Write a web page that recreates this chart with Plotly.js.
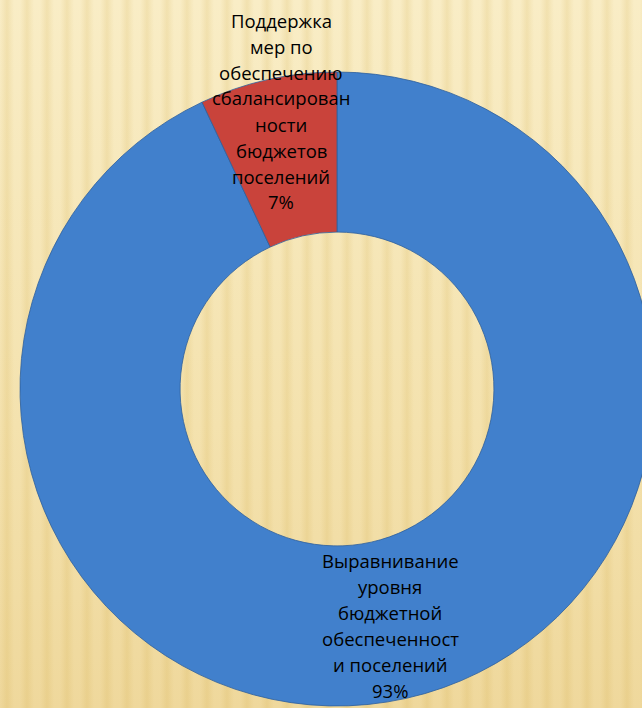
<!DOCTYPE html>
<html>
<head>
<meta charset="utf-8">
<script src="https://cdn.plot.ly/plotly-3.0.1.min.js"></script>
<style>
  html, body { margin: 0; padding: 0; width: 642px; height: 708px; overflow: hidden; }
  body {
    background:
      repeating-linear-gradient(90deg,
        rgba(205,165,60,0) 0px, rgba(205,165,60,0.17) 7px,
        rgba(205,165,60,0) 14px, rgba(205,165,60,0) 20px),
      linear-gradient(180deg, #f9edc6 0%, #f4e2ae 60%, #efd89c 100%);
  }
  #chart { width: 674px; height: 708px; }
</style>
</head>
<body>
<div id="chart"></div>
<script>
// Data
const categories = [
  "Выравнивание уровня бюджетной обеспеченности поселений",
  "Поддержка мер по обеспечению сбалансированности бюджетов поселений"
];
const values = [93, 7];
const percentLabels = ["93%", "7%"];
// Label lines as wrapped in the original chart
const labelLines = [
  ["Выравнивание", "уровня", "бюджетной", "обеспеченност", "и поселений"],
  ["Поддержка", "мер по", "обеспечению", "сбалансирован", "ности", "бюджетов", "поселений"]
];
const colors = ["#4180cc", "#c9433b"];

// Layout geometry (pixels)
const W = 674, H = 708, ML = 20, MR = 20, MT = 72, MB = 2;
const PW = W - ML - MR, PH = H - MT - MB;
const labelAnchors = [ {x: 390, y: 560}, {x: 281, y: 20} ]; // first-line centre
const lineStep = 26;

const annotations = [];
labelLines.forEach((lines, i) => {
  const all = lines.concat([percentLabels[i]]);
  all.forEach((t, k) => {
    const px = labelAnchors[i].x, py = labelAnchors[i].y + k * lineStep;
    annotations.push({
      xref: 'paper', yref: 'paper',
      x: (px - ML) / PW, y: (H - MB - py) / PH,
      xanchor: 'center', yanchor: 'middle',
      text: t, showarrow: false,
      font: {family: 'Open Sans, sans-serif', size: 18.5, color: '#000000'}
    });
  });
});

const trace = {
  type: 'pie',
  labels: categories,
  values: values,
  hole: 0.495,
  sort: false,
  direction: 'counterclockwise',
  rotation: 0,
  textinfo: 'none',
  hoverinfo: 'label+percent',
  marker: { colors: colors, line: { color: '#2f5f9c', width: 0.8 } },
  showlegend: false
};

Plotly.newPlot('chart', [trace], {
  width: W, height: H,
  margin: {l: ML, r: MR, t: MT, b: MB, pad: 0},
  paper_bgcolor: 'rgba(0,0,0,0)',
  plot_bgcolor: 'rgba(0,0,0,0)',
  showlegend: false,
  annotations: annotations
}, {displayModeBar: false, staticPlot: true});
</script>
</body>
</html>
